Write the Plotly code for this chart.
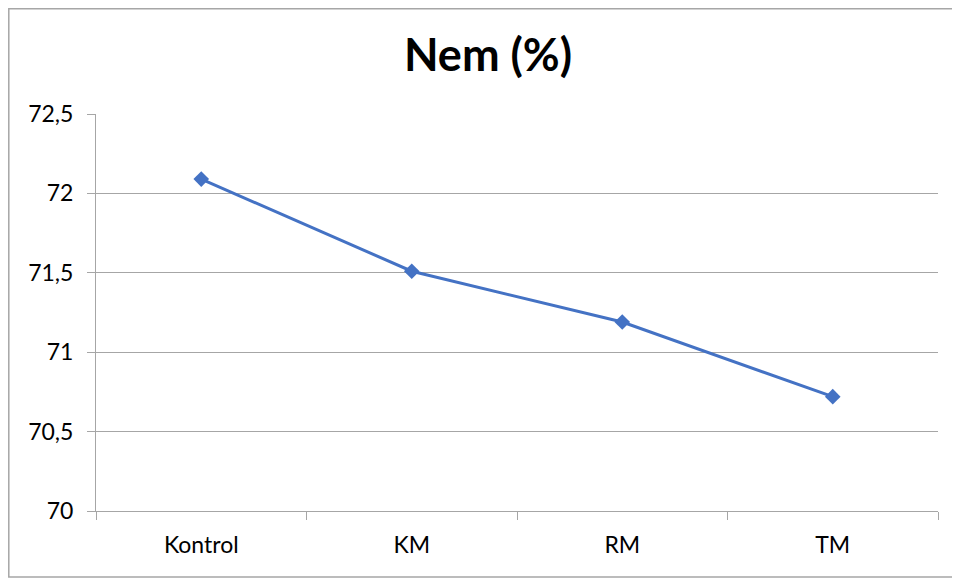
import plotly.graph_objects as go

categories = ["Kontrol", "KM", "RM", "TM"]
values = [72.09, 71.51, 71.19, 70.72]
y_tick_vals = [70, 70.5, 71, 71.5, 72, 72.5]
y_tick_text = ["70", "70,5", "71", "71,5", "72", "72,5"]
title_text = "Nem (%)"

FONT = "Lato, 'Open Sans', sans-serif"
GRID = "#a6a6a6"

# page body has an 8px margin, so figure coordinates are offset by 8px
W, H = 952, 573
L, R, T, B = 88, 22, 106, 70
PW, PH = W - L - R, H - T - B

fig = go.Figure()
fig.add_trace(go.Scatter(
    x=categories, y=values, mode="lines+markers",
    line=dict(color="#4472C4", width=3),
    marker=dict(symbol="diamond", size=12, color="#4472C4"),
    showlegend=False, hoverinfo="x+y",
))

fig.update_layout(
    width=W, height=H,
    margin=dict(l=L, r=R, t=T, b=B),
    paper_bgcolor="white", plot_bgcolor="white",
    font=dict(family=FONT, size=23, color="#000000"),
    separators=", ",
    title=dict(text="<b>" + title_text + "</b>", x=480 / W, xanchor="center",
               y=1 - 47 / H, yanchor="middle", yref="container",
               font=dict(family=FONT, size=45, color="#000000")),
    xaxis=dict(
        type="category", range=[-0.5, 3.5], tickson="boundaries",
        ticks="outside", ticklen=8, tickcolor=GRID, tickwidth=1,
        showline=True, linecolor=GRID, linewidth=1,
        showgrid=False, zeroline=False,
        tickfont=dict(size=23), ticklabelstandoff=13,
    ),
    yaxis=dict(
        range=[70, 72.5], tickvals=y_tick_vals, ticktext=y_tick_text,
        ticks="outside", ticklen=8, tickcolor=GRID, tickwidth=1,
        showline=True, linecolor=GRID, linewidth=1,
        showgrid=True, gridcolor=GRID, gridwidth=1, zeroline=False,
        tickfont=dict(size=23), ticklabelstandoff=9,
    ),
    shapes=[dict(
        type="rect", xref="paper", yref="paper",
        x0=(0.8 - L) / PW, x1=(W + 10 - L) / PW,
        y0=(H - B - 569) / PH, y1=(H - B - 0.8) / PH,
        line=dict(color="#a6a6a6", width=1.5), layer="below",
    )],
)

fig.write_html("out.html")
